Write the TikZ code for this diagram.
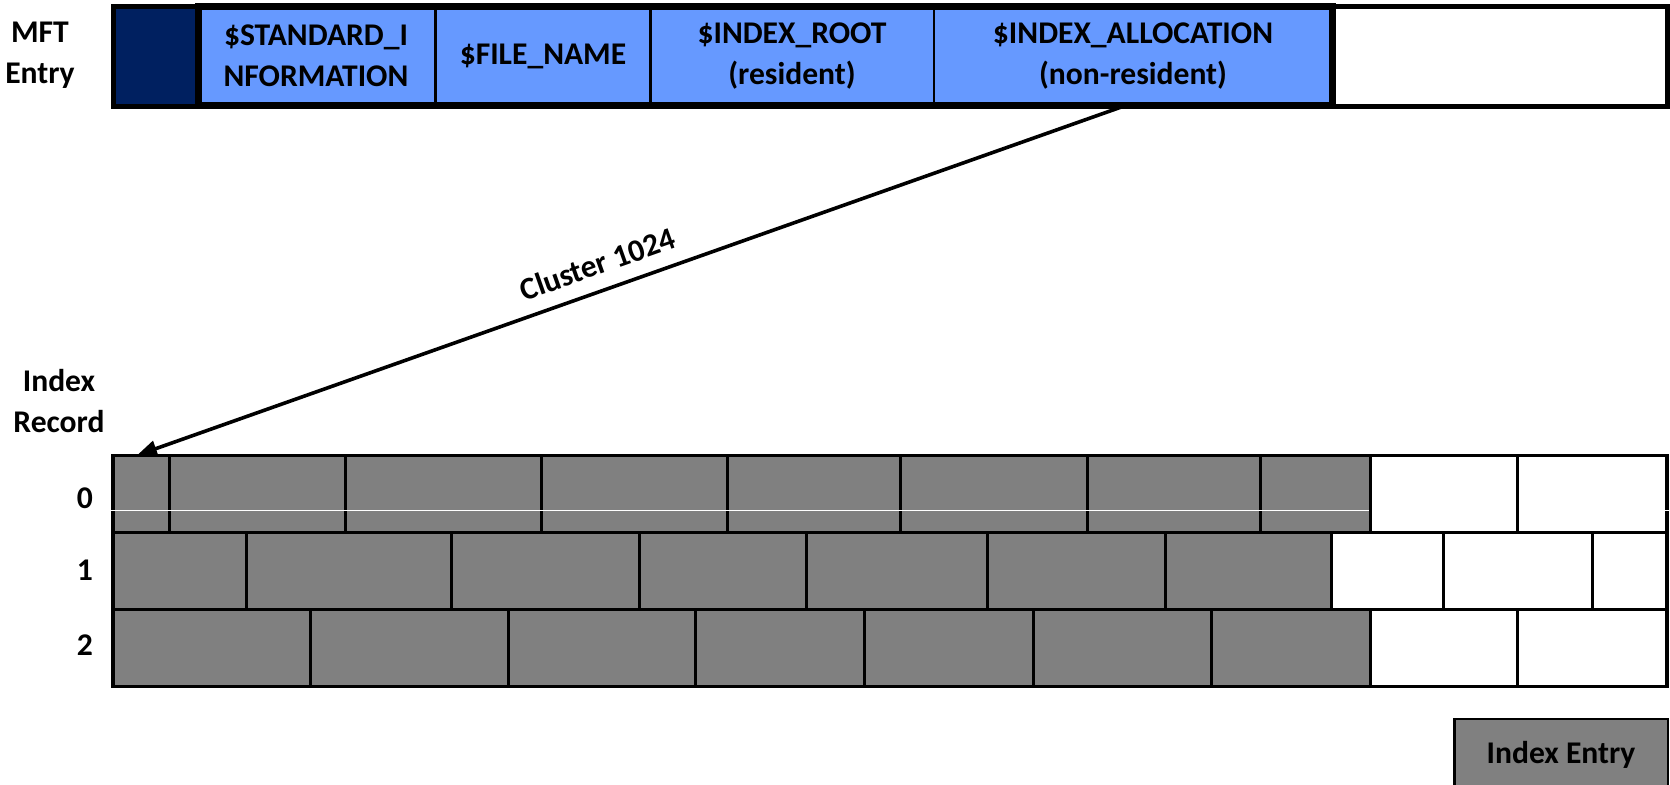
\documentclass[tikz,border=0pt]{standalone}
\usepackage{fontspec}
\setmainfont{Carlito}
\usetikzlibrary{arrows.meta}
\definecolor{navy}{RGB}{0,32,96}
\definecolor{attrblue}{RGB}{102,153,255}
\definecolor{cellgray}{RGB}{128,128,128}
\begin{document}
\begin{tikzpicture}[x=0.5pt,y=-0.5pt,
  lbl/.style={font=\fontsize{15.8}{20.5}\selectfont\bfseries, align=center, inner sep=0pt, text=black},
  gridline/.style={line width=1.7pt, black},
  divline/.style={line width=1.5pt, black},
  ptr/.style={line width=1.8pt, -{Triangle[length=10pt,width=8pt]}}]
\useasboundingbox (0,0) rectangle (1670,784);

% ---------------- MFT entry ----------------
\filldraw[fill=navy, draw=black, line width=2.5pt] (113.5,6.5) rectangle (198,106);
\draw[black, line width=2.5pt] (1332.7,6.5) rectangle (1667.5,106);
\filldraw[fill=attrblue, draw=black, line width=3.5pt] (198,6.3) rectangle (1332.7,105.7);
\foreach \dx in {435.6,650.7,934}{\draw[black, line width=1.3pt] (\dx,8) -- (\dx,104);}

\node[lbl] (mftlbl) at (40,55) {MFT\\Entry};
\node[lbl] (stdinfo) at (316,56) {\$STANDARD\_I\\NFORMATION};
\node[lbl] (fname) at (543,56) {\$FILE\_NAME};
\node[lbl] (iroot) at (792,56) {\$INDEX\_ROOT\\(resident)};
\node[lbl] (ialloc) at (1133,56) {\$INDEX\_ALLOCATION\\(non-resident)};

% ---------------- Index records ----------------
\node[lbl] (reclbl) at (59,401) {Index\\Record};
\node[lbl] (r0) at (85,498) {0};
\node[lbl] (r1) at (85,570) {1};
\node[lbl] (r2) at (85,645) {2};

\foreach \yt/\yb/\ge/\divs in {
  455.3/532.6/1370/{169,345,541,727,900,1087,1260,1370,1517},
  532.6/609.5/1331/{246,451.6,639,806,987,1165,1331,1443,1592},
  609.5/686.5/1370/{310,508,695,864,1033,1211,1370,1517}}{
  \fill[cellgray] (113,\yt) rectangle (\ge,\yb);
  \foreach \d in \divs {\draw[divline] (\d,\yt) -- (\d,\yb);}
}
\draw[gridline] (113,455.3) rectangle (1667,686.5);
\draw[gridline] (113,532.6) -- (1667,532.6);
\draw[gridline] (113,609.5) -- (1667,609.5);
\draw[white, line width=0.6pt] (111,510.7) -- (1369,510.7);
\draw[white, line width=0.6pt] (1664,510.7) -- (1670,510.7);

% ---------------- pointer ----------------
\coordinate (allocbot) at (1125,105.7);
\coordinate (rec0top) at (137,455.3);
\draw[ptr] (allocbot) -- (rec0top)
  node[lbl, pos=0.525, sloped, above=7pt] (clus) {Cluster 1024};

% ---------------- legend ----------------
\filldraw[fill=cellgray, draw=black, line width=1.2pt] (1454.5,719) rectangle (1668,800);
\node[lbl, anchor=base] (legend) at (1561,763) {Index Entry};
\end{tikzpicture}
\end{document}
